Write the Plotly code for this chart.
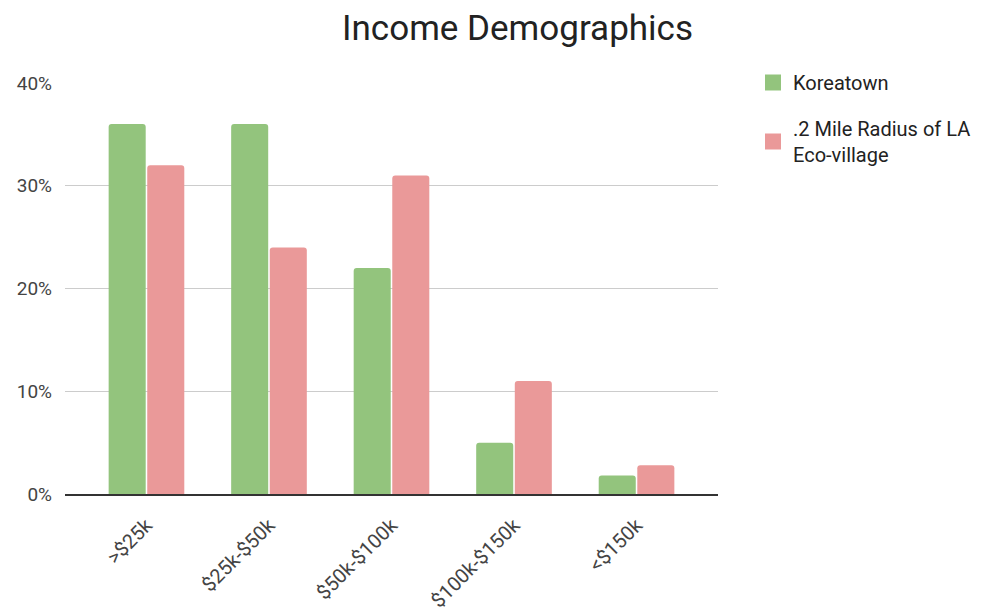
import plotly.graph_objects as go

categories = [">$25k", "$25k-$50k", "$50k-$100k", "$100k-$150k", "<$150k"]
koreatown = [36, 36, 22, 5, 1.8]
eco_village = [32, 24, 31, 11, 2.8]
series_names = ["Koreatown", ".2 Mile Radius of LA<br>Eco-village"]
series_colors = ["#93c47d", "#ea9999"]
y_ticks = [0, 10, 20, 30, 40]
y_tick_labels = ["0%", "10%", "20%", "30%", "40%"]

fig = go.Figure()
for vals, name, col, grp in [(koreatown, series_names[0], series_colors[0], "a"),
                             (eco_village, series_names[1], series_colors[1], "b")]:
    fig.add_trace(go.Bar(x=categories, y=vals, name=name, showlegend=False,
                         legendgroup=grp,
                         marker=dict(color=col, line=dict(width=0))))
for name, col, grp in [(series_names[0], series_colors[0], "a"),
                       (series_names[1], series_colors[1], "b")]:
    fig.add_trace(go.Scatter(x=[None], y=[None], mode="markers", name=name,
                             legendgroup=grp, showlegend=True,
                             marker=dict(symbol="square", size=16, color=col)))

fig.update_layout(
    width=986, height=612,
    margin=dict(l=65, r=268, t=83, b=118, pad=0, autoexpand=False),
    paper_bgcolor="white", plot_bgcolor="white",
    font=dict(family="Roboto", color="#444444"),
    title=dict(text="Income Demographics", x=517.5/986, xanchor="center",
               y=1-28/612, yanchor="middle",
               font=dict(family="Roboto", size=35, color="#222222")),
    barmode="group", bargap=0.37, bargroupgap=0.04, barcornerradius=3,
    legend=dict(x=(753-65)/653, xanchor="left", y=1+(83-63)/411, yanchor="top",
                font=dict(family="Roboto", size=20, color="#222222"),
                tracegroupgap=17, itemwidth=30, itemsizing="trace",
                bgcolor="rgba(0,0,0,0)"),
    showlegend=True,
)
fig.update_xaxes(range=[-0.665, 4.665], tickangle=-45, showgrid=False,
                 showline=True, linecolor="#333333", linewidth=1.5,
                 ticks="", tickfont=dict(size=20, color="#444444"),
                 ticklabelstandoff=10, automargin=False)
fig.update_yaxes(range=[0, 40], tickvals=y_ticks, ticktext=y_tick_labels,
                 showgrid=True, gridcolor="#cccccc", gridwidth=1,
                 zeroline=False, showline=False, ticks="", automargin=False,
                 tickfont=dict(size=19, color="#444444"), ticklabelstandoff=12)

fig.write_html("out.html")
